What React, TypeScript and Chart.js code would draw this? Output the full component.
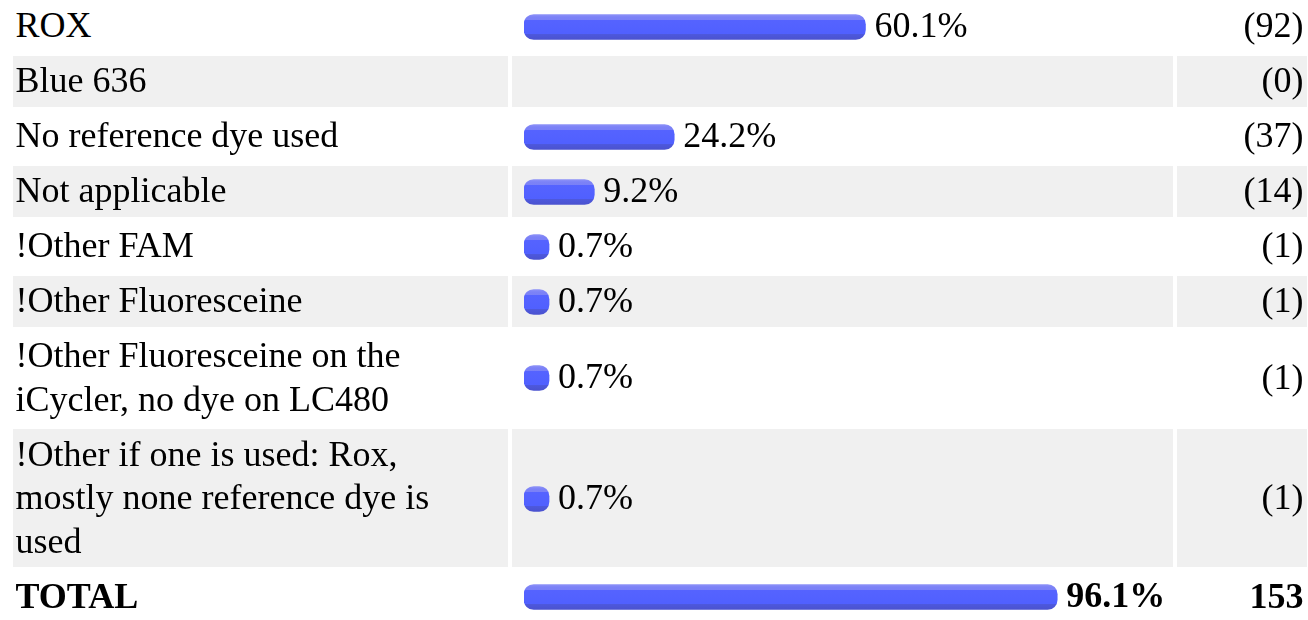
import React, { useEffect, useRef } from "react";
import { Chart, registerables } from "chart.js";

Chart.register(...registerables);

// ---- data ----
const categories: (string | string[])[] = [
  "ROX",
  "Blue 636",
  "No reference dye used",
  "Not applicable",
  "!Other FAM",
  "!Other Fluoresceine",
  ["!Other Fluoresceine on the", "iCycler, no dye on LC480"],
  ["!Other if one is used: Rox,", "mostly none reference dye is", "used"],
];
const percents: number[] = [60.1, 0, 24.2, 9.2, 0.7, 0.7, 0.7, 0.7];
const counts: number[] = [92, 0, 37, 14, 1, 1, 1, 1];
const totalLabel = "TOTAL";
const totalPercent = 96.1;
const totalCount = 153;

// ---- scale bounds ----
const X_MIN = -4;
const X_MAX = 100;

const FONT_FAMILY = '"Liberation Serif", "Times New Roman", Times, serif';
const GRAY = "#f0f0f0";
const LINE_H = 43.5;
const PAD_V = 3.75;
const CANVAS_H = 43;

function barGradient(c: any) {
  const chart = c.chart;
  const area = chart.chartArea;
  if (!area) return "#5060ff";
  const cy = (area.top + area.bottom) / 2;
  const g = chart.ctx.createLinearGradient(0, cy - 12.5, 0, cy + 12.5);
  g.addColorStop(0, "#8d92f7");
  g.addColorStop(0.1, "#7c82f7");
  g.addColorStop(0.22, "#7a80f6");
  g.addColorStop(0.24, "#5563ff");
  g.addColorStop(0.78, "#5060ff");
  g.addColorStop(0.8, "#4d58dc");
  g.addColorStop(1, "#4a52cf");
  return g;
}

function BarCell({ value, bold }: { value: number; bold?: boolean }) {
  const ref = useRef<HTMLCanvasElement>(null);
  useEffect(() => {
    const canvas = ref.current;
    if (!canvas) return;
    const labelPlugin = {
      id: "pctLabel",
      afterDatasetsDraw(chart: any) {
        const meta = chart.getDatasetMeta(0);
        const ctx = chart.ctx;
        meta.data.forEach((el: any, i: number) => {
          const v = chart.data.datasets[0].data[i];
          if (v == null) return;
          ctx.save();
          ctx.font = `${bold ? "bold " : ""}36px ${FONT_FAMILY}`;
          ctx.fillStyle = "#000";
          ctx.textBaseline = "alphabetic";
          ctx.textAlign = "left";
          ctx.fillText(Number(v).toFixed(1) + "%", el.x + 9, el.y + 10);
          ctx.restore();
        });
      },
    };
    const chart = new Chart(canvas, {
      type: "bar",
      data: {
        labels: [""],
        datasets: [
          {
            data: [value > 0 ? value : null],
            base: X_MIN,
            backgroundColor: barGradient,
            borderWidth: 0,
            borderRadius: 10,
            borderSkipped: false,
            barThickness: 25,
          } as any,
        ],
      },
      options: {
        indexAxis: "y",
        responsive: false,
        animation: false,
        layout: { padding: { left: 12, right: 94, top: 1, bottom: 0 } },
        plugins: { legend: { display: false }, tooltip: { enabled: false } },
        scales: {
          x: { type: "linear", min: X_MIN, max: X_MAX, display: false },
          y: { display: false },
        },
      },
      plugins: [labelPlugin],
    });
    return () => chart.destroy();
  }, [value, bold]);
  return <canvas ref={ref} width={660} height={CANVAS_H} style={{ display: "block" }} />;
}

function Label({ text }: { text: string | string[] }) {
  const lines = Array.isArray(text) ? text : [text];
  return (
    <>
      {lines.map((l, i) => (
        <React.Fragment key={i}>
          {i > 0 && <br />}
          {l}
        </React.Fragment>
      ))}
    </>
  );
}

export default function App() {
  const tdBase: React.CSSProperties = {
    verticalAlign: "middle",
    boxSizing: "border-box",
  };
  const c1: React.CSSProperties = { ...tdBase, padding: `${PAD_V}px 3px` };
  const c2: React.CSSProperties = { ...tdBase, padding: "4px 0" };
  const c3: React.CSSProperties = { ...tdBase, padding: `${PAD_V}px 3px`, textAlign: "right" };

  return (
    <div style={{ position: "absolute", left: 8.5, top: -3.3 }}>
      <table
        style={{
          borderCollapse: "separate",
          borderSpacing: "4.5px",
          tableLayout: "fixed",
          width: 1302,
          fontFamily: FONT_FAMILY,
          fontSize: 36,
          lineHeight: `${LINE_H}px`,
          color: "#000",
        }}
      >
        <colgroup>
          <col style={{ width: 495 }} />
          <col style={{ width: 660 }} />
          <col style={{ width: 129 }} />
        </colgroup>
        <tbody>
          {categories.map((cat, i) => {
            const bg = i % 2 === 1 ? GRAY : "transparent";
            return (
              <tr key={i}>
                <td style={{ ...c1, background: bg }}>
                  <Label text={cat} />
                </td>
                <td style={{ ...c2, background: bg }}>
                  <BarCell value={percents[i]} />
                </td>
                <td style={{ ...c3, background: bg }}>({counts[i]})</td>
              </tr>
            );
          })}
          <tr>
            <td style={{ ...c1, fontWeight: "bold" }}>{totalLabel}</td>
            <td style={c2}>
              <BarCell value={totalPercent} bold />
            </td>
            <td style={{ ...c3, fontWeight: "bold" }}>{totalCount}</td>
          </tr>
        </tbody>
      </table>
    </div>
  );
}
